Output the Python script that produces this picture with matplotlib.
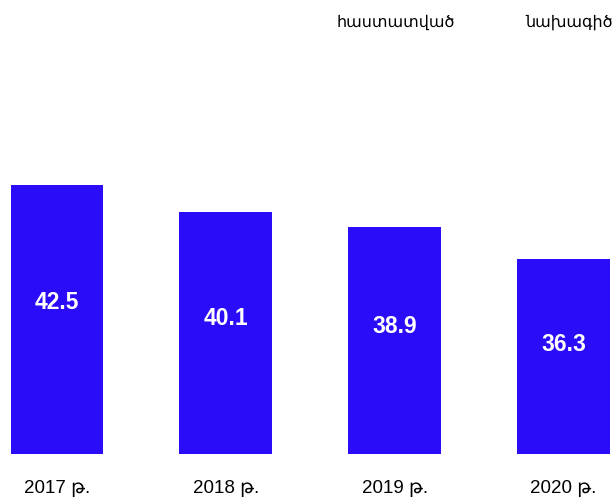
import matplotlib.pyplot as plt

years = ["2017 թ.", "2018 թ.", "2019 թ.", "2020 թ."]
values = [42.5, 40.1, 38.9, 36.3]
series_labels = ["հաստատված", "նախագիծ"]

FAMILY = ["Liberation Sans", "DejaVu Sans"]
BAR_COLOR = "#2A0CF8"

fig = plt.figure(figsize=(6.15, 4.98), dpi=100)
ax = fig.add_axes([0, 0.088, 1, 0.54])

x = range(len(values))
bars = ax.bar(x, values, width=0.55, color=BAR_COLOR)
ax.set_xlim(-0.338, 3.305)
ax.set_ylim(20.3, 42.3)
ax.axis("off")

for rect, v in zip(bars, values):
    ax.text(rect.get_x() + rect.get_width() / 2, 20.3 + (v - 20.3) * 0.56,
            f"{v:.1f}", ha="center", va="center", color="white",
            fontsize=16.5, fontweight="bold", family=FAMILY)

for i, year in enumerate(years):
    ax.text(i, 17.5, year, ha="center", va="center", fontsize=13.5,
            family=FAMILY, clip_on=False)

fig.text(396 / 615, 1 - 22 / 498, series_labels[0], ha="center", va="center",
         fontsize=11.5, family=["DejaVu Sans"])
fig.text(569 / 615, 1 - 22 / 498, series_labels[1], ha="center", va="center",
         fontsize=11.5, family=["DejaVu Sans"])

fig.savefig("out.png", dpi=100)
